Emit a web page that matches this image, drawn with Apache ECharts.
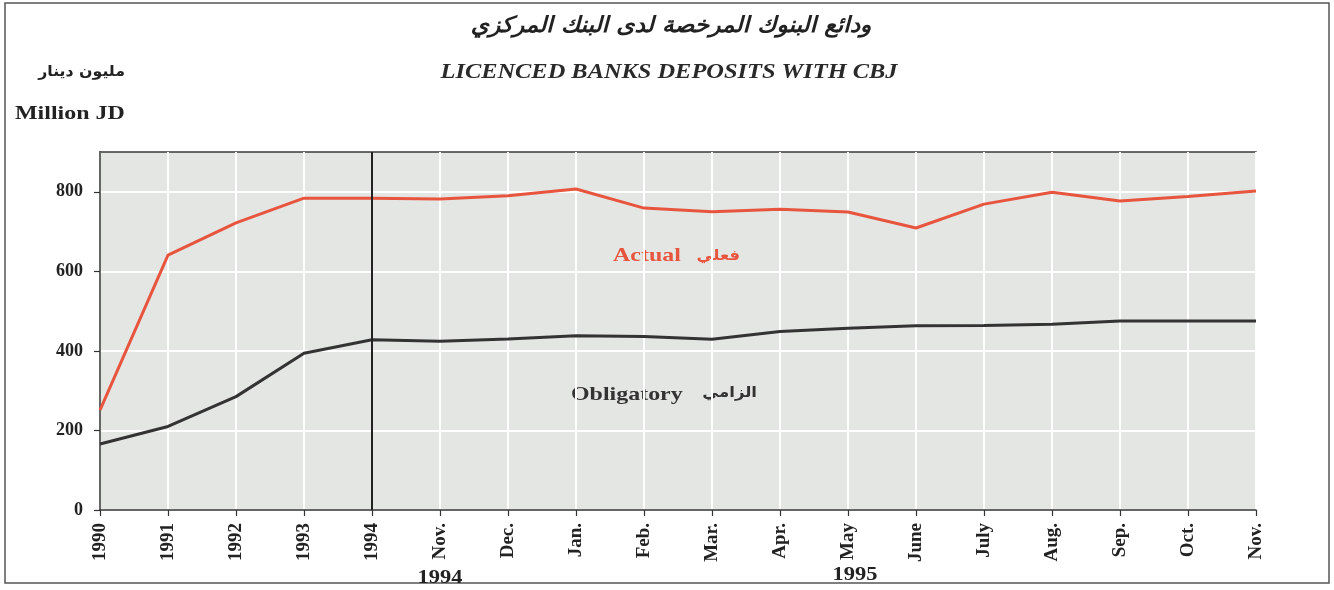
<!DOCTYPE html>
<html>
<head>
<meta charset="utf-8">
<script src="https://cdn.jsdelivr.net/npm/echarts@6/dist/echarts.min.js"></script>
<style>
  html, body { margin: 0; padding: 0; background: #fff; }
  #chart { width: 1334px; height: 590px; }
</style>
</head>
<body>
<div id="chart"></div>
<script>
// categories (years, then months of 1994/1995)
var periods = ['1990', '1991', '1992', '1993', '1994', 'Nov.', 'Dec.', 'Jan.', 'Feb.', 'Mar.',
  'Apr.', 'May', 'June', 'July', 'Aug.', 'Sep.', 'Oct.', 'Nov.'];
// million JD
var actualDeposits = [251, 641, 722, 784, 784, 782, 790, 807, 759, 750, 756, 749, 709, 769, 799, 777, 788, 802];
var obligatoryDeposits = [166, 210, 285, 394, 428, 424, 430, 438, 436, 429, 449, 457, 463, 464, 467, 475, 475, 475];
var yTicks = [0, 200, 400, 600, 800];

var serif = "'Liberation Serif', 'Times New Roman', serif";
var arabic = "'DejaVu Sans', 'Noto Sans', sans-serif";

// the scan is stretched sideways, so free texts get a small scaleX
function label(text, x, y, font, color, align, sx) {
  return {
    type: 'text', x: x, y: y, scaleX: sx || 1.26, silent: true,
    style: { text: text, font: font, fill: color, textAlign: align || 'left', textVerticalAlign: 'middle' }
  };
}

var myChart = echarts.init(document.getElementById('chart'));
myChart.setOption({
  animation: false,
  backgroundColor: '#fff',
  grid: {
    left: 100, right: 78, top: 152, bottom: 80,
    show: true,
    backgroundColor: '#e4e6e3',
    borderColor: '#3a3a3a',
    borderWidth: 1.5
  },
  xAxis: {
    type: 'category',
    data: periods,
    boundaryGap: false,
    axisLine: { lineStyle: { color: '#333', width: 1.5 } },
    axisTick: { length: 6, lineStyle: { color: '#333', width: 1.2 } },
    axisLabel: {
      rotate: 90, margin: 13, interval: 0,
      color: '#222', fontFamily: serif, fontWeight: 'bold', fontSize: 19
    },
    splitLine: { show: true, lineStyle: { color: '#fff', width: 2 } }
  },
  yAxis: {
    type: 'value',
    min: 0, max: 900, interval: 200,
    axisLine: { show: true, lineStyle: { color: '#333', width: 1.5 } },
    axisTick: { show: true, length: 6, customValues: yTicks, lineStyle: { color: '#333', width: 1.2 } },
    axisLabel: {
      margin: 17, customValues: yTicks,
      color: '#222', fontFamily: serif, fontWeight: 'bold', fontSize: 18
    },
    splitLine: { show: true, lineStyle: { color: '#fff', width: 2 } }
  },
  series: [
    {
      name: 'Actual',
      type: 'line',
      data: actualDeposits,
      symbol: 'none',
      lineStyle: { color: '#e8553e', width: 3 },
      z: 3
    },
    {
      name: 'Obligatory',
      type: 'line',
      data: obligatoryDeposits,
      symbol: 'none',
      lineStyle: { color: '#333', width: 3 },
      markLine: {
        silent: true,
        symbol: 'none',
        label: { show: false },
        lineStyle: { color: '#222', width: 2, type: 'solid' },
        data: [{ xAxis: '1994' }]
      },
      z: 2
    }
  ],
  graphic: [
    {
      type: 'rect', silent: true,
      shape: { x: 5, y: 3, width: 1324, height: 580 },
      style: { fill: 'none', stroke: '#555', lineWidth: 1.5 }
    },
    label('ودائع البنوك المرخصة لدى البنك المركزي', 671, 26, 'italic bold 22px ' + arabic, '#222', 'center', 1.06),
    label('LICENCED BANKS DEPOSITS WITH CBJ', 669, 73, 'italic bold 20px ' + serif, '#2a2a2a', 'center', 1.22),
    label('مليون دينار', 125, 72, 'bold 15px ' + arabic, '#222', 'right', 1.05),
    label('Million JD', 15, 114, 'bold 19px ' + serif, '#222'),
    label('Actual', 613, 256, 'bold 19px ' + serif, '#e8553e'),
    label('فعلي', 740, 256, 'bold 15px ' + arabic, '#e8553e', 'right', 1.1),
    label('Obligatory', 571, 395, 'bold 19px ' + serif, '#333'),
    label('الزامي', 757, 393, 'bold 15px ' + arabic, '#333', 'right', 1.1),
    label('1994', 440, 578, 'bold 19px ' + serif, '#222', 'center', 1.18),
    label('1995', 855, 575, 'bold 19px ' + serif, '#222', 'center', 1.18)
  ]
});
</script>
</body>
</html>
